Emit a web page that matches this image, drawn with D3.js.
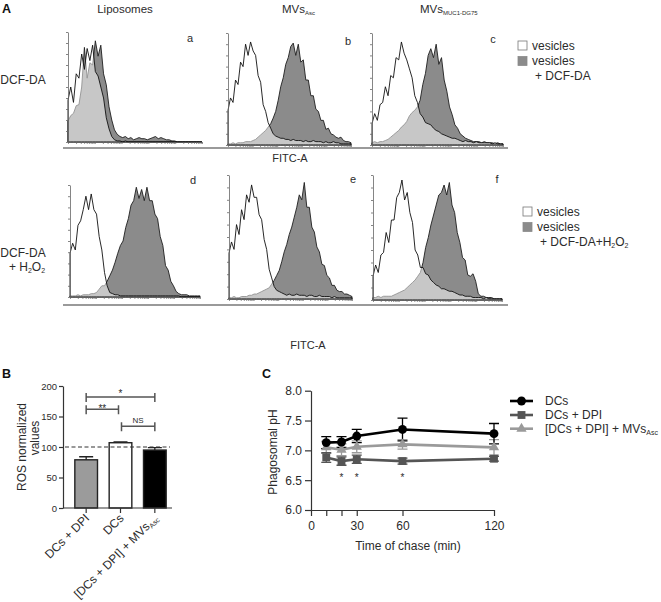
<!DOCTYPE html>
<html><head><meta charset="utf-8">
<script src="https://cdn.jsdelivr.net/npm/d3@7"></script>
<style>
body{margin:0;background:#fff;}
svg{display:block;font-family:"Liberation Sans",Arial,sans-serif;}
</style></head><body>
<svg id="fig" width="661" height="602"></svg>
<script>
// ---------- DATA ----------
// Panel A: flow cytometry histograms (% of max count per FITC-A bin)
const vesiclesA = [38,50,36,62,58,80,66,85,74,88,64,60,50,40,22,12,5,2,1,1,0,1,0,0,0,0,0,0,0,0,0,0,0,0,0,0,0,0,0,0,0,0,0,0,0,0,0,0,0,0];
const dcfdaA    = [19,24,26,33,34,50,86,58,72,70,92,78,88,62,52,32,20,11,7,5,4,5,3,4,2,3,4,3,3,2,3,4,5,3,4,3,2,2,1,1,0,0,0,0,0,0,0,0,0,0];
const vesiclesB = [31,42,38,58,54,74,70,90,80,92,84,80,62,56,36,30,20,15,10,8,7,6,6,5,5,4,5,4,4,4,3,4,3,3,4,3,3,3,2,3,2,2,3,2,2,1,1,1,1,1];
const dcfdaB    = [1,1,2,1,2,2,2,3,3,3,4,5,7,9,11,13,16,19,24,30,40,52,60,72,78,88,91,80,90,74,76,58,58,44,44,32,30,22,22,14,15,10,9,7,6,7,4,3,3,2];
const vesiclesC = [19,28,22,36,38,52,44,62,60,78,76,92,82,76,68,60,44,38,28,25,20,19,18,15,13,12,10,9,8,7,6,6,5,4,3,4,3,3,2,3,2,2,2,2,2,1,2,1,1,1];
const dcfdaC    = [2,3,2,3,3,4,5,7,9,11,13,16,18,21,26,29,31,34,40,54,64,80,86,78,90,72,78,58,48,34,27,18,15,10,8,6,5,4,3,3,3,2,3,2,2,2,1,2,1,1];
const vesiclesD = [39,48,42,64,68,78,90,78,92,78,74,54,42,22,10,4,3,2,2,1,1,1,1,1,1,1,1,1,1,1,1,1,1,1,1,1,1,1,1,1,1,1,0,0,0,0,0,0,0,0];
const dcfdaD    = [1,1,1,2,1,2,2,2,3,3,4,7,10,10,14,19,24,31,39,46,50,62,70,82,86,98,88,96,86,98,86,86,74,70,54,46,28,24,14,10,5,3,2,2,2,1,1,1,1,1];
const vesiclesE = [37,46,40,60,52,72,64,84,78,92,82,82,68,64,48,40,24,17,10,7,6,5,4,3,4,3,3,4,3,3,3,2,3,3,2,2,3,2,2,2,2,1,2,1,1,1,1,1,1,1];
const dcfdaE    = [1,1,2,1,1,2,2,2,3,3,4,4,5,6,7,8,9,12,15,19,23,30,38,44,52,58,66,74,84,80,94,74,74,58,54,42,38,28,27,19,17,11,11,7,6,6,4,4,3,2];
const vesiclesF = [19,28,22,36,38,54,46,64,64,82,86,96,80,86,70,62,40,36,26,26,21,20,16,14,12,11,9,9,8,7,7,6,5,4,4,3,3,3,2,2,2,2,1,2,1,1,1,1,1,1];
const dcfdaF    = [2,2,3,2,3,3,3,3,4,5,6,7,8,10,12,14,16,19,22,30,42,50,60,68,76,84,86,92,84,94,76,70,54,46,34,32,20,19,21,15,5,3,3,2,2,2,1,1,1,1];

// Panel B: ROS normalized values
const rosCategories = ["DCs + DPI", "DCs", "[DCs + DPI] + MVs"];
const rosSubscripts = ["", "", "Asc"];
const rosValues = [79, 107, 95];
const rosErrors = [5, 1.5, 4];
const rosYTicks = [0, 50, 100, 150, 200];
const rosSig = [["*", 0, 2], ["**", 0, 1], ["NS", 1, 2]];

// Panel C: phagosomal pH
const chaseTimes = [10, 20, 30, 60, 120];
const phDCs    = [7.13, 7.14, 7.24, 7.35, 7.28];
const phDCsErr = [0.10, 0.09, 0.11, 0.19, 0.17];
const phDPI    = [6.88, 6.82, 6.85, 6.82, 6.86];
const phDPIErr = [0.08, 0.07, 0.07, 0.05, 0.04];
const phMVs    = [7.05, 7.01, 7.06, 7.10, 7.05];
const phMVsErr = [0.10, 0.10, 0.10, 0.08, 0.13];
const sigTimes = [20, 30, 60];
const phYTicks = [6.0, 6.5, 7.0, 7.5, 8.0];
const chaseTicks = [0, 10, 20, 30, 60, 120];
const chaseTickLabels = [0, 30, 60, 120];
const seriesNames = ["DCs", "DCs + DPI", "[DCs + DPI] + MVs"];

// ---------- DRAW ----------
const svg = d3.select("#fig");
svg.append("rect").attr("width", 661).attr("height", 602).attr("fill", "#fff");
const TXT = "#2b2b2b";

function txt(x, y, s, size, opts = {}) {
  const t = svg.append("text").attr("x", x).attr("y", y)
    .attr("font-size", size).attr("fill", opts.fill || TXT)
    .attr("text-anchor", opts.anchor || "start")
    .attr("font-weight", opts.bold ? "bold" : "normal");
  if (opts.transform) t.attr("transform", opts.transform);
  t.append("tspan").text(s);
  return t;
}
function sub(t, s, size, shift) {
  t.append("tspan").attr("font-size", size).attr("baseline-shift", shift || "-30%").text(s);
  return t;
}

// panel letters
txt(2, 13, "A", 12.5, {bold: true, fill: "#111"});
txt(2, 378, "B", 12.5, {bold: true, fill: "#111"});
txt(262, 378, "C", 12.5, {bold: true, fill: "#111"});

// column titles
txt(125, 13, "Liposomes", 11.5, {anchor: "middle"});
sub(txt(282, 13, "MVs", 11.5), "Asc", 6);
sub(txt(420, 13, "MVs", 11.5), "MUC1-DG75", 6);

// row titles
txt(23, 84, "DCF-DA", 12, {anchor: "middle"});
txt(23, 257, "DCF-DA", 12, {anchor: "middle"});
{
  const t = txt(27, 271, "+ H", 12, {anchor: "middle"});
  sub(t, "2", 7);
  t.append("tspan").attr("baseline-shift", "0").text("O");
  sub(t, "2", 7);
}

const histPanels = [
  {id: "a", ves: vesiclesA, dcf: dcfdaA, box: [68, 202, 32, 142], lab: [190, 42]},
  {id: "b", ves: vesiclesB, dcf: dcfdaB, box: [228, 351, 33, 145], lab: [348, 45]},
  {id: "c", ves: vesiclesC, dcf: dcfdaC, box: [372, 503, 33, 145], lab: [493, 43]},
  {id: "d", ves: vesiclesD, dcf: dcfdaD, box: [70, 200, 185, 297], lab: [193, 184]},
  {id: "e", ves: vesiclesE, dcf: dcfdaE, box: [229, 352, 175, 299], lab: [353, 183]},
  {id: "f", ves: vesiclesF, dcf: dcfdaF, box: [373, 502, 175, 300], lab: [497, 183]}
];

histPanels.forEach(p => {
  const [x0, x1, y0, y1] = p.box;
  const g = svg.append("g");
  const xs = d3.scaleLinear().domain([0, p.ves.length - 1]).range([x0, x1]);
  const ys = d3.scaleLinear().domain([0, 100]).range([y1, y0]);
  const area = d3.area().x((d, i) => xs(i)).y0(y1).y1(d => ys(d));
  g.append("path").attr("d", area(p.dcf)).attr("fill", "#8b8b8b")
    .attr("stroke", "#1e1e1e").attr("stroke-width", 0.9).attr("stroke-linejoin", "round");
  g.append("path").attr("d", area(p.ves)).attr("fill", "#fff").attr("fill-opacity", 0.52)
    .attr("stroke", "#111").attr("stroke-width", 0.9).attr("stroke-linejoin", "round");
  const ya = g.append("g").attr("transform", `translate(${x0},0)`)
    .call(d3.axisLeft(ys).ticks(10).tickSize(2).tickSizeOuter(0).tickFormat(""));
  ya.selectAll("path,line").attr("stroke", "#666").attr("stroke-width", 0.8);
  const xl = d3.scaleLog().domain([1, 1e5]).range([x0, x1]);
  const xa = g.append("g").attr("transform", `translate(0,${y1})`)
    .call(d3.axisBottom(xl).tickSize(2).tickSizeOuter(0).tickFormat(""));
  xa.selectAll("path,line").attr("stroke", "#666").attr("stroke-width", 0.7);
  txt(p.lab[0], p.lab[1], p.id, 11, {anchor: "middle"});
});

// separator lines
[148, 305].forEach(y => svg.append("line").attr("x1", 63).attr("x2", 508)
  .attr("y1", y).attr("y2", y).attr("stroke", "#9a9a9a").attr("stroke-width", 2));
txt(290, 162, "FITC-A", 11, {anchor: "middle"});
txt(308, 349, "FITC-A", 11, {anchor: "middle"});

// legends for A
function histLegend(x, y, lines) {
  svg.append("rect").attr("x", x).attr("y", y).attr("width", 9).attr("height", 9)
    .attr("fill", "#fff").attr("stroke", "#777").attr("stroke-width", 0.8);
  svg.append("rect").attr("x", x).attr("y", y + 15.5).attr("width", 9).attr("height", 9)
    .attr("fill", "#8b8b8b").attr("stroke", "#8b8b8b").attr("stroke-width", 0.8);
  txt(x + 14, y + 8.5, "vesicles", 12);
  txt(x + 14, y + 24, "vesicles", 12);
  return txt(x + 17, y + 38.5, lines, 12);
}
histLegend(518, 41, "+ DCF-DA");
{
  const t = histLegend(523, 207, "+ DCF-DA+H");
  sub(t, "2", 7);
  t.append("tspan").attr("baseline-shift", "0").text("O");
  sub(t, "2", 7);
}

// ---------- Panel B ----------
{
  const g = svg.append("g");
  const yB = d3.scaleLinear().domain([0, 200]).range([508, 386]);
  const xB = d3.scaleBand().domain(rosCategories).range([69, 172]).paddingInner(0.34).paddingOuter(0.17);
  const fills = ["#9b9b9b", "#ffffff", "#000000"];
  rosCategories.forEach((c, i) => {
    const cx = xB(c) + xB.bandwidth() / 2;
    const top = yB(rosValues[i] + rosErrors[i]);
    g.append("path").attr("d", `M${cx},${yB(rosValues[i])}V${top}M${cx - 7},${top}H${cx + 7}`)
      .attr("stroke", "#222").attr("stroke-width", 1.3).attr("fill", "none");
  });
  g.selectAll("rect.bar").data(rosValues).join("rect").attr("class", "bar")
    .attr("x", (d, i) => xB(rosCategories[i])).attr("width", xB.bandwidth())
    .attr("y", d => yB(d)).attr("height", d => yB(0) - yB(d))
    .attr("fill", (d, i) => fills[i]).attr("stroke", "#222").attr("stroke-width", 1.4);
  g.append("line").attr("x1", 65).attr("x2", 170).attr("y1", yB(100)).attr("y2", yB(100))
    .attr("stroke", "#333").attr("stroke-width", 1.2).attr("stroke-dasharray", "4,2.5");
  const ya = g.append("g").attr("transform", "translate(63,0)")
    .call(d3.axisLeft(yB).tickValues(rosYTicks).tickSize(4).tickPadding(2).tickSizeOuter(0));
  ya.selectAll("path,line").attr("stroke", "#333").attr("stroke-width", 1.2);
  ya.selectAll("text").attr("font-size", 9.5).attr("fill", TXT).attr("font-family", "Liberation Sans, Arial, sans-serif");
  g.append("line").attr("x1", 63).attr("x2", 172).attr("y1", 508).attr("y2", 508).attr("stroke", "#333").attr("stroke-width", 1.2);
  rosCategories.forEach((c, i) => {
    const cx = xB(c) + xB.bandwidth() / 2;
    g.append("line").attr("x1", cx).attr("x2", cx).attr("y1", 508).attr("y2", 513).attr("stroke", "#333").attr("stroke-width", 1.2);
    const t = txt(cx + 4, 519, c, 12, {anchor: "end", transform: `rotate(-45,${cx + 4},519)`});
    if (rosSubscripts[i]) sub(t, rosSubscripts[i], 7);
  });
  const levels = [182, 162, 134];
  rosSig.forEach(([lab, a, b], k) => {
    const xa = xB(rosCategories[a]) + xB.bandwidth() / 2 + (k === 2 ? 1 : 0);
    const xb = xB(rosCategories[b]) + xB.bandwidth() / 2 - (k === 1 ? 2 : 0);
    const y = yB(levels[k]);
    g.append("path").attr("d", `M${xa},${y - 4}V${y + 5}M${xa},${y}H${xb}M${xb},${y - 4}V${y + 5}`)
      .attr("fill", "none").attr("stroke", "#555").attr("stroke-width", 1.5);
    txt((xa + xb) / 2, lab === "NS" ? y - 3.5 : y + (lab === "*" ? 0.5 : 3), lab, lab === "NS" ? 8 : 10, {anchor: "middle"});
  });
  txt(0, 0, "ROS normalized", 12, {anchor: "middle", transform: "translate(26,447) rotate(-90)"});
  txt(0, 0, "values", 12, {anchor: "middle", transform: "translate(39,438) rotate(-90)"});
}

// ---------- Panel C ----------
{
  const g = svg.append("g");
  const xC = d3.scaleLinear().domain([0, 120]).range([311, 494]);
  const yC = d3.scaleLinear().domain([6, 8]).range([510, 390.7]);
  const ya = g.append("g").attr("transform", "translate(311,0)")
    .call(d3.axisLeft(yC).tickValues(phYTicks).tickSize(6).tickSizeOuter(0).tickFormat(d3.format(".1f")));
  const xa = g.append("g").attr("transform", "translate(0,510)")
    .call(d3.axisBottom(xC).tickValues(chaseTicks).tickSize(6).tickSizeOuter(0)
      .tickFormat(d => chaseTickLabels.includes(d) ? d : ""));
  [ya, xa].forEach(a => {
    a.selectAll("path,line").attr("stroke", "#333").attr("stroke-width", 1.2);
    a.selectAll("text").attr("font-size", 12).attr("fill", TXT).attr("font-family", "Liberation Sans, Arial, sans-serif");
  });
  xa.selectAll("text").attr("dy", "0.95em");

  const series = [
    {v: phMVs, e: phMVsErr, col: "#9a9a9a", sym: d3.symbolTriangle, size: 46},
    {v: phDPI, e: phDPIErr, col: "#555555", sym: d3.symbolSquare, size: 62},
    {v: phDCs, e: phDCsErr, col: "#000000", sym: d3.symbolCircle, size: 62}
  ];
  const line = d3.line().x((d, i) => xC(chaseTimes[i])).y(d => yC(d));
  series.forEach(s => {
    s.v.forEach((v, i) => {
      const x = xC(chaseTimes[i]);
      g.append("path").attr("d", `M${x - 5},${yC(v + s.e[i])}H${x + 5}M${x},${yC(v + s.e[i])}V${yC(v - s.e[i])}M${x - 5},${yC(v - s.e[i])}H${x + 5}`)
        .attr("stroke", s.col).attr("stroke-width", 1.3).attr("fill", "none");
    });
  });
  series.forEach(s => {
    g.append("path").attr("d", line(s.v)).attr("fill", "none").attr("stroke", s.col).attr("stroke-width", 2.6);
    s.v.forEach((v, i) => {
      g.append("path").attr("d", d3.symbol(s.sym, s.size)()).attr("fill", s.col)
        .attr("transform", `translate(${xC(chaseTimes[i])},${yC(v)})`);
    });
  });
  sigTimes.forEach(t => txt(xC(t), 480.5, "*", 10, {anchor: "middle"}));
  txt(408, 550, "Time of chase (min)", 12, {anchor: "middle"});
  txt(0, 0, "Phagosomal pH", 12, {anchor: "middle", transform: "translate(277,452) rotate(-90)"});

  const legY = [401, 415, 428.7];
  const legSeries = [series[2], series[1], series[0]];
  legSeries.forEach((s, k) => {
    g.append("line").attr("x1", 510).attr("x2", 533).attr("y1", legY[k]).attr("y2", legY[k])
      .attr("stroke", s.col).attr("stroke-width", 2.6);
    g.append("path").attr("d", d3.symbol(s.sym, s.size)()).attr("fill", s.col)
      .attr("transform", `translate(521.5,${legY[k]})`);
    const t = txt(545, legY[k] + 4.3, seriesNames[k], 12);
    if (k === 2) sub(t, "Asc", 7);
  });
}
</script>
</body></html>
